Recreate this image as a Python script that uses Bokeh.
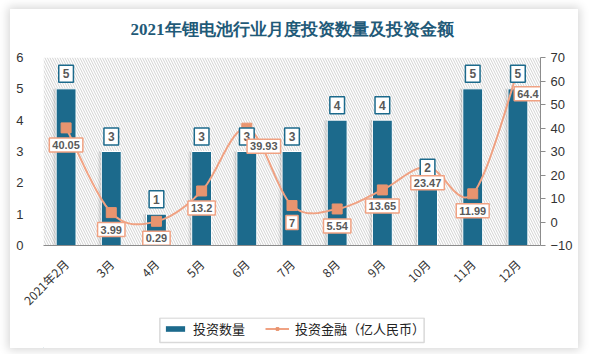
import numpy as np
from bokeh.plotting import figure
from bokeh.layouts import column
from bokeh.models import (Range1d, LinearAxis, FixedTicker, ColumnDataSource,
                          Legend, LegendItem)
from bokeh.core.properties import value
from bokeh.embed import file_html
from bokeh.resources import INLINE

# ---- data ----
months = ["2021年2月", "3月", "4月", "5月", "6月", "7月", "8月", "9月", "10月", "11月", "12月"]
counts = [5, 3, 1, 3, 3, 3, 4, 4, 2, 5, 5]
amounts = [40.05, 3.99, 0.29, 13.2, 39.93, 7, 5.54, 13.65, 23.47, 11.99, 64.4]
amount_texts = ["40.05", "3.99", "0.29", "13.2", "39.93", "7", "5.54", "13.65", "23.47", "11.99", "64.4"]
title_text = "2021年锂电池行业月度投资数量及投资金额"
series_names = ["投资数量", "投资金融（亿人民币）"]

# label placement styles (pixels, screen-down positive)
amt_dx = [0, 0, 0, 0, 17, 0, 0, 0, 0, 0, 10]
amt_dy = [17, 17, 17, 17, 18, 17, 17, 16, 16, 17, 23]

BAR = "#1c6a8c"
LINE = "#f0a283"
MARK = "#e8946f"

x = list(range(len(months)))
CW = 568
TH = 38          # title strip height
H1 = 270         # main chart height
LH = 339 - TH - H1  # legend strip height

# ---- title strip ----
t = figure(width=CW, height=TH, output_backend="svg", toolbar_location=None,
           x_range=Range1d(0, CW), y_range=Range1d(0, TH),
           x_axis_type=None, y_axis_type=None, min_border=0)
t.outline_line_color = None
t.xgrid.grid_line_color = None
t.ygrid.grid_line_color = None
t.border_fill_color = "white"
t.background_fill_color = "white"
t.text(x=[CW / 2], y=[TH - 20], text=[title_text], text_align="center", text_baseline="middle",
       text_font=value("Liberation Serif"), text_font_size="17px", text_font_style="bold",
       text_color="#1f5a78")

# ---- main chart ----
p = figure(width=CW, height=H1, output_backend="svg", toolbar_location=None,
           x_range=Range1d(-0.5, len(months) - 0.5), y_range=Range1d(0, 6),
           min_border_left=33, min_border_right=38, min_border_top=10, min_border_bottom=72)
p.border_fill_color = "white"
p.background_fill_color = "white"
p.outline_line_color = None
p.xgrid.grid_line_color = None
p.ygrid.grid_line_color = None

# hatched plot area
p.quad(left=[-0.5], right=[len(months) - 0.5], bottom=[0], top=[6],
       fill_color="white", line_color=None, hatch_pattern="\\", hatch_color="#d2d2d2",
       hatch_scale=5, hatch_weight=1)

p.extra_y_ranges = {"amt": Range1d(-10, 70)}

src = ColumnDataSource(dict(x=x, c=counts, a=amounts, at=amount_texts,
                            ct=[str(v) for v in counts], dx=amt_dx, dy=amt_dy,
                            xs1=[v - 0.04 for v in x], xs2=[v - 0.08 for v in x]))

# bar shadow
p.vbar(x="xs2", top="c", width=0.44, source=src, fill_color="#000000", fill_alpha=0.05, line_color=None)
p.vbar(x="xs1", top="c", width=0.44, source=src, fill_color="#000000", fill_alpha=0.10, line_color=None)
p.vbar(x="x", top="c", width=0.44, source=src, fill_color=BAR, line_color="white", line_width=1)

# smoothed line (Catmull-Rom through the data points)
pts = np.array([[xi, yi] for xi, yi in zip(x, amounts)], dtype=float)
sx, sy = [], []
n = len(pts)
for i in range(n - 1):
    p0 = pts[i - 1] if i > 0 else pts[i]
    p1 = pts[i]
    p2 = pts[i + 1]
    p3 = pts[i + 2] if i + 2 < n else pts[i + 1]
    c1 = p1 + (p2 - p0) / 6.0
    c2 = p2 - (p3 - p1) / 6.0
    for tt in np.linspace(0, 1, 25):
        b = (1 - tt) ** 3 * p1 + 3 * (1 - tt) ** 2 * tt * c1 + 3 * (1 - tt) * tt ** 2 * c2 + tt ** 3 * p2
        sx.append(b[0]); sy.append(b[1])
p.line(sx, sy, y_range_name="amt", line_color=LINE, line_width=2)
p.scatter(x="x", y="a", source=src, y_range_name="amt", marker="square", size=10,
          fill_color=MARK, line_color=MARK)

# bar labels
p.text(x="x", y="c", text="ct", source=src, y_offset=-15,
       text_align="center", text_baseline="middle",
       text_font=value("Liberation Sans"), text_font_size="12px", text_font_style="bold",
       text_color="#595959", background_fill_color="white",
       border_line_color=BAR, border_line_width=1.5, padding=4)
# amount labels
p.text(x="x", y="a", text="at", source=src, y_range_name="amt",
       x_offset="dx", y_offset="dy",
       text_align="center", text_baseline="middle",
       text_font=value("Liberation Sans"), text_font_size="11px", text_font_style="bold",
       text_color="#595959", background_fill_color="white",
       border_line_color=LINE, border_line_width=1.5, padding=3)

# axes
ax = p.xaxis[0]
ax.ticker = FixedTicker(ticks=x)
ax.major_label_overrides = {i: m for i, m in enumerate(months)}
ax.major_label_orientation = np.pi / 4
ax.axis_line_color = "#8c8c8c"
ax.major_tick_line_color = None
ax.minor_tick_line_color = None
ax.major_label_text_font = "Noto Sans CJK SC"
ax.major_label_text_font_size = "12px"
ax.major_label_text_color = "#333333"
ax.major_label_standoff = 10

ay = p.yaxis[0]
ay.ticker = FixedTicker(ticks=[0, 1, 2, 3, 4, 5, 6])
ay.axis_line_color = None
ay.major_tick_line_color = None
ay.minor_tick_line_color = None
ay.major_label_text_font = "Liberation Sans"
ay.major_label_text_font_size = "13px"
ay.major_label_text_color = "#333333"
ay.major_label_standoff = 14

ry = LinearAxis(y_range_name="amt", ticker=FixedTicker(ticks=list(range(-10, 71, 10))))
ry.axis_line_color = "#8c8c8c"
ry.major_tick_line_color = "#8c8c8c"
ry.major_tick_out = 5
ry.major_tick_in = 0
ry.minor_tick_line_color = None
ry.major_label_text_font = "Liberation Sans"
ry.major_label_text_font_size = "13px"
ry.major_label_text_color = "#333333"
ry.major_label_standoff = 5
p.add_layout(ry, "right")

# ---- legend strip (pixel-unit ranges) ----
q = figure(width=CW, height=LH, output_backend="svg", toolbar_location=None,
           x_range=Range1d(0, CW), y_range=Range1d(0, LH),
           x_axis_type=None, y_axis_type=None, min_border=0)
q.outline_line_color = None
q.xgrid.grid_line_color = None
q.ygrid.grid_line_color = None
q.border_fill_color = "white"
q.background_fill_color = "white"
q.quad(left=[133], right=[435], bottom=[LH - 25], top=[LH - 0.5], fill_color=None,
       line_color="#d9d9d9", line_width=1.5)
lb = q.vbar(x=[-1000], top=[1], width=1, fill_color=BAR, line_color=None)
ll = q.line(x=[-1000, -999], y=[1, 1], line_color=LINE, line_width=2)
lm = q.scatter(x=[-1000], y=[1], marker="square", size=9, fill_color=MARK, line_color=MARK)
legend = Legend(items=[LegendItem(label=series_names[0], renderers=[lb]),
                       LegendItem(label=series_names[1], renderers=[ll, lm])],
                orientation="horizontal", location=(120, LH - 21),
                label_text_font="Noto Sans CJK SC", label_text_font_size="13px",
                label_text_color="#222222", border_line_color=None,
                background_fill_alpha=0,
                glyph_width=24, glyph_height=7, label_standoff=6, spacing=20,
                padding=0, margin=0)
q.add_layout(legend, "center")

page = column(t, p, q, spacing=0,
              styles={"margin-left": "10px", "margin-top": "9px",
                      "box-shadow": "0px 0px 9px 2px rgba(0,0,0,0.16)",
                      "background-color": "white"})

open("out.html", "w").write(file_html(page, INLINE))
